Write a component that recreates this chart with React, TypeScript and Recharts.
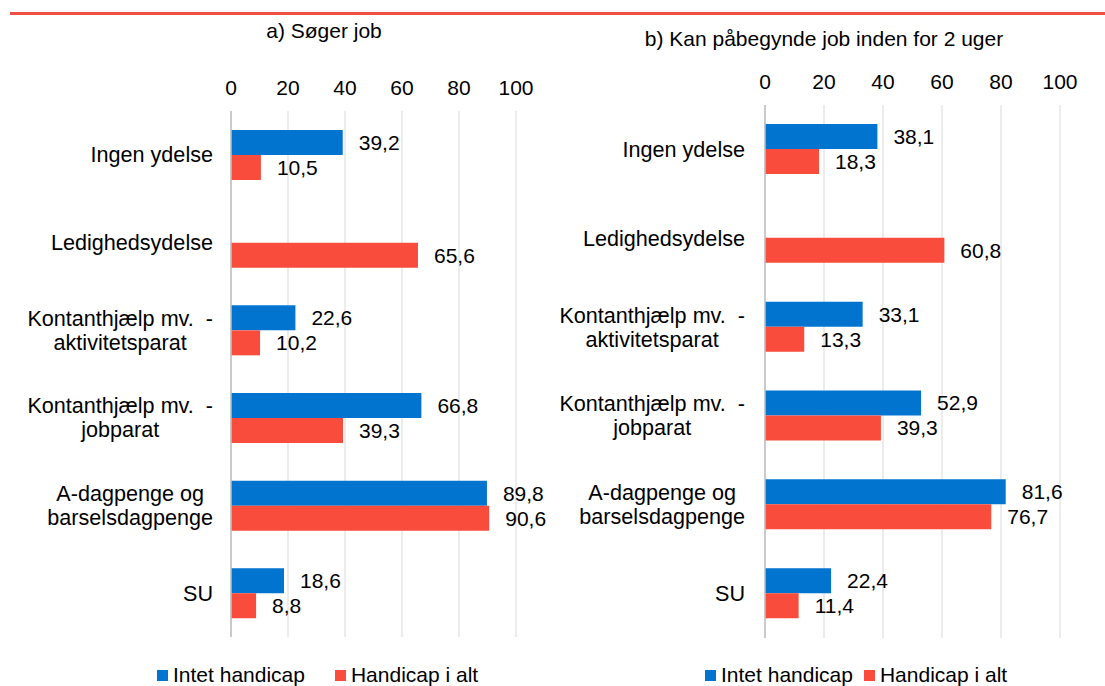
import React from "react";
import {
  Bar,
  BarChart,
  CartesianGrid,
  LabelList,
  XAxis,
  YAxis,
} from "recharts";

const categories = [
  "Ingen ydelse",
  "Ledighedsydelse",
  "Kontanthjælp mv.  -\naktivitetsparat",
  "Kontanthjælp mv.  -\njobparat",
  "A-dagpenge og\nbarselsdagpenge",
  "SU",
];

// a) Søger job
const soegerIntet = [39.2, null, 22.6, 66.8, 89.8, 18.6];
const soegerHandicap = [10.5, 65.6, 10.2, 39.3, 90.6, 8.8];

// b) Kan påbegynde job inden for 2 uger
const kanIntet = [38.1, null, 33.1, 52.9, 81.6, 22.4];
const kanHandicap = [18.3, 60.8, 13.3, 39.3, 76.7, 11.4];

const xTicks = [0, 20, 40, 60, 80, 100];

const BLUE = "#0174cf";
const RED = "#f94c3d";
const FONT = '"Liberation Sans", Arial, sans-serif';
const FS = 21;
const CAT_FS = 21.6;

const seriesNames = ["Intet handicap", "Handicap i alt"];

const buildRows = (a: (number | null)[], b: (number | null)[]) =>
  categories.map((name, i) => ({ name, intet: a[i], handicap: b[i] }));

let ctx: CanvasRenderingContext2D | null = null;
function textWidth(s: string) {
  if (!ctx && typeof document !== "undefined") {
    ctx = document.createElement("canvas").getContext("2d");
  }
  if (!ctx) return s.length * CAT_FS * 0.5;
  ctx.font = `${CAT_FS}px ${FONT}`;
  return ctx.measureText(s).width;
}

function CategoryTick(props: any) {
  const { x, y, payload } = props;
  const lines = String(payload.value).split("\n");
  const lh = 24;
  if (lines.length === 1) {
    return (
      <text x={x} y={y} dy="0.35em" textAnchor="end" fontSize={CAT_FS} fill="#000" fontFamily={FONT} style={{ whiteSpace: "pre" }}>
        {lines[0]}
      </text>
    );
  }
  const maxW = Math.max(...lines.map(textWidth));
  const cx = x - maxW / 2;
  return (
    <text fontSize={CAT_FS} fill="#000" fontFamily={FONT} textAnchor="middle" style={{ whiteSpace: "pre" }}>
      {lines.map((l, i) => (
        <tspan key={i} x={cx} y={y + (i - (lines.length - 1) / 2) * lh} dy="0.35em">
          {l}
        </tspan>
      ))}
    </text>
  );
}

const fmt = (v: any) =>
  v === null || v === undefined ? "" : Number(v).toFixed(1).replace(".", ",");

function Panel(props: {
  rows: any[];
  width: number;
  margin: any;
  yWidth: number;
  tickMargin: number;
  catMargin: number;
}) {
  const { rows, width, margin, yWidth, tickMargin, catMargin } = props;
  return (
    <BarChart
      width={width}
      height={686}
      data={rows}
      layout="vertical"
      margin={margin}
      barGap={0}
      barSize={25}
    >
      <CartesianGrid horizontal={false} stroke="#d9d9d9" />
      <XAxis
        type="number"
        orientation="top"
        domain={[0, 100]}
        ticks={xTicks}
        height={51}
        axisLine={false}
        tickLine={false}
        tickSize={0}
        tickMargin={tickMargin}
        tick={{ fontSize: FS, fill: "#000", fontFamily: FONT }}
      />
      <YAxis
        type="category"
        dataKey="name"
        width={yWidth}
        axisLine={{ stroke: "#bfbfbf", strokeWidth: 1.5 }}
        tickLine={false}
        tickSize={0}
        tickMargin={catMargin}
        tick={<CategoryTick />}
        interval={0}
      />
      <Bar dataKey="intet" fill={BLUE} isAnimationActive={false}>
        <LabelList dataKey="intet" position="right" offset={16} formatter={fmt} fill="#000" fontSize={FS} fontFamily={FONT} />
      </Bar>
      <Bar dataKey="handicap" fill={RED} isAnimationActive={false}>
        <LabelList dataKey="handicap" position="right" offset={16} formatter={fmt} fill="#000" fontSize={FS} fontFamily={FONT} />
      </Bar>
    </BarChart>
  );
}

function LegendRow(props: { left: number; gap: number }) {
  const item = (color: string, label: string, ml: number) => (
    <div style={{ display: "flex", alignItems: "center", marginLeft: ml }}>
      <div style={{ width: 11, height: 11, background: color, marginRight: 5 }} />
      <span>{label}</span>
    </div>
  );
  return (
    <div
      style={{
        position: "absolute",
        left: props.left,
        top: 662,
        display: "flex",
        fontSize: FS,
        fontFamily: FONT,
        color: "#000",
        lineHeight: "26px",
      }}
    >
      {item(BLUE, seriesNames[0], 0)}
      {item(RED, seriesNames[1], props.gap)}
    </div>
  );
}

export default function App() {
  const titleStyle: React.CSSProperties = {
    position: "absolute",
    fontSize: FS,
    fontFamily: FONT,
    color: "#000",
    textAlign: "center",
    whiteSpace: "nowrap",
  };
  return (
    <div
      style={{
        position: "absolute",
        left: 0,
        top: 0,
        width: 1105,
        height: 686,
        background: "#fff",
        overflow: "hidden",
      }}
    >
      <div style={{ position: "absolute", left: 10, top: 12, width: 538, height: 3, background: "#f0503f" }} />
      <div style={{ position: "absolute", left: 548, top: 12, width: 557, height: 3, background: "#f0503f" }} />

      <div style={{ ...titleStyle, left: 224, width: 200, top: 19 }}>a) Søger job</div>
      <div style={{ ...titleStyle, left: 624, width: 400, top: 27 }}>
        b) Kan påbegynde job inden for 2 uger
      </div>

      <div style={{ position: "absolute", left: 0, top: 0 }}>
        <Panel
          rows={buildRows(soegerIntet, soegerHandicap)}
          width={548}
          margin={{ top: 60, right: 32, bottom: 49, left: 0 }}
          yWidth={231}
          tickMargin={16}
          catMargin={18}
        />
      </div>
      <div style={{ position: "absolute", left: 548, top: 0 }}>
        <Panel
          rows={buildRows(kanIntet, kanHandicap)}
          width={557}
          margin={{ top: 54, right: 45, bottom: 48, left: 0 }}
          yWidth={217}
          tickMargin={16}
          catMargin={20}
        />
      </div>

      <LegendRow left={157} gap={30} />
      <LegendRow left={705} gap={11} />
    </div>
  );
}
